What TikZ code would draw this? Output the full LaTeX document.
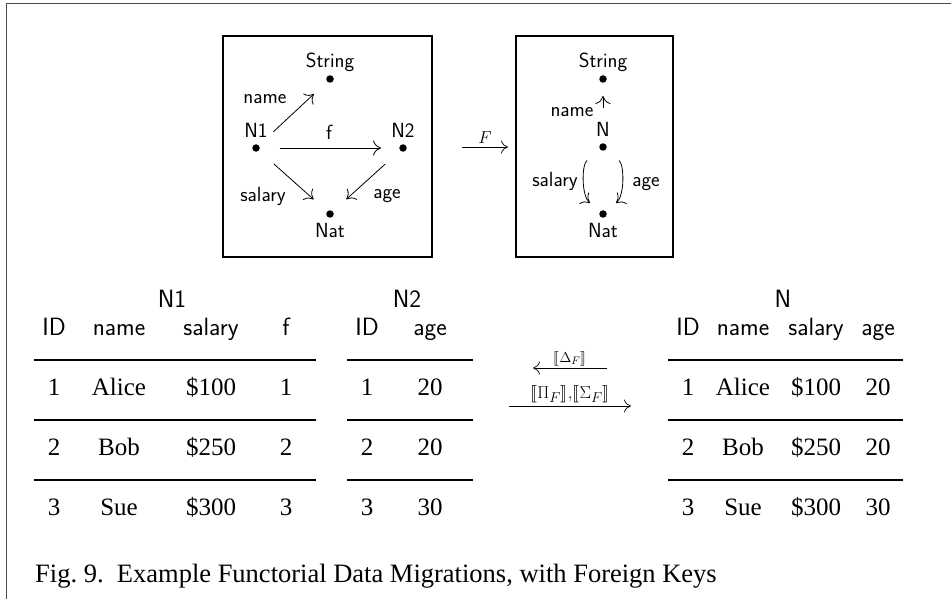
\documentclass[tikz,border=0pt]{standalone}
\usepackage{fontspec}
\setmainfont{Liberation Serif}
\usepackage{stmaryrd}
\usetikzlibrary{arrows.meta}
\begin{document}
\begin{tikzpicture}[x=1pt,y=-1pt,
  dot/.style={circle,fill=black,inner sep=0pt,minimum size=7.5pt},
  lbl/.style={font=\sffamily\fontsize{20.5}{20.5}\selectfont,anchor=base,inner sep=0pt},
  arr/.style={-{To[length=8pt,width=15pt]},line width=0.8pt,shorten <=20pt,shorten >=18pt},
  hdr/.style={font=\sffamily\fontsize{25}{25}\selectfont,anchor=base,inner sep=0pt},
  cell/.style={font=\fontsize{25}{25}\selectfont,anchor=base,inner sep=0pt},
  rulel/.style={line width=1.1pt},
  boxl/.style={line width=1.2pt},
  marr/.style={-{To[length=7pt,width=13pt]},line width=0.7pt}]
\useasboundingbox (0,0) rectangle (951,599);
% outer frame
\coordinate (fa) at (951,3);
\coordinate (fb) at (6,3);
\coordinate (fc) at (6,599);
\draw[line width=0.9pt,black!70] (fa) -- (fb) -- (fc);
% boxes
\draw[boxl] (223,36) rectangle (432,257);
\draw[boxl] (516,36) rectangle (673,257);
% left diagram
\node[dot] (s1) at (330,79) {};
\node[dot] (n1) at (256,148) {};
\node[dot] (n2) at (403,148) {};
\node[dot] (nat1) at (330,214) {};
\node[lbl] (ls1) at (330,68) {String};
\node[lbl] (ln1) at (256,138) {N1};
\node[lbl] (ln2) at (403,138) {N2};
\node[lbl] (lnat1) at (330,237) {Nat};
\draw[arr] (n1) -- (s1);
\draw[arr] (n1) -- (n2);
\draw[arr] (n1) -- (nat1);
\draw[arr] (n2) -- (nat1);
\node[lbl] (lname1) at (265,104) {name};
\node[lbl] (lf) at (329,140) {f};
\node[lbl] (lsal1) at (263,201) {salary};
\node[lbl] (lage1) at (387,198) {age};
% functor arrow
\coordinate (fs) at (462,147);
\coordinate (fe) at (508,147);
\draw[marr] (fs) -- node[above=3pt,inner sep=0pt,font=\fontsize{18}{18}\selectfont] (lF) {$F$} (fe);
% right diagram
\node[dot] (s2) at (603,79) {};
\node[dot] (n) at (603,147) {};
\node[dot] (nat2) at (603,214) {};
\node[lbl] (ls2) at (603,68) {String};
\node[lbl] (ln) at (603,137) {N};
\node[lbl] (lnat2) at (603,237) {Nat};
\draw[arr,shorten <=35pt,shorten >=13pt] (n) -- (s2);
\draw[arr,shorten <=17pt,shorten >=13pt] (n) to[bend right=50] (nat2);
\draw[arr,shorten <=17pt,shorten >=13pt] (n) to[bend left=50] (nat2);
\node[lbl] (lname2) at (572,117) {name};
\node[lbl] (lsal2) at (555,186) {salary};
\node[lbl] (lage2) at (646,186) {age};
% table N1
\node[hdr] (tn1) at (172,307) {N1};
\node[hdr] (h1) at (54,335) {ID};
\node[hdr] (h2) at (119,335) {name};
\node[hdr] (h3) at (211,335) {salary};
\node[hdr] (h4) at (286,335) {f};
\draw[rulel] (34,360) -- (316,360);
\draw[rulel] (34,420) -- (316,420);
\draw[rulel] (34,480) -- (316,480);
\node[cell] (a11) at (54,395) {1};
\node[cell] (a12) at (119,395) {Alice};
\node[cell] (a13) at (211,395) {\$100};
\node[cell] (a14) at (286,395) {1};
\node[cell] (a21) at (54,455) {2};
\node[cell] (a22) at (119,455) {Bob};
\node[cell] (a23) at (211,455) {\$250};
\node[cell] (a24) at (286,455) {2};
\node[cell] (a31) at (54,515) {3};
\node[cell] (a32) at (119,515) {Sue};
\node[cell] (a33) at (211,515) {\$300};
\node[cell] (a34) at (286,515) {3};
% table N2
\node[hdr] (tn2) at (407,307) {N2};
\node[hdr] (g1) at (367,335) {ID};
\node[hdr] (g2) at (430,335) {age};
\draw[rulel] (347,360) -- (473,360);
\draw[rulel] (347,420) -- (473,420);
\draw[rulel] (347,480) -- (473,480);
\node[cell] (b11) at (367,395) {1};
\node[cell] (b12) at (430,395) {20};
\node[cell] (b21) at (367,455) {2};
\node[cell] (b22) at (430,455) {20};
\node[cell] (b31) at (367,515) {3};
\node[cell] (b32) at (430,515) {30};
% migration arrows
\coordinate (d1) at (607,368);
\coordinate (d2) at (533,368);
\draw[marr] (d1) -- node[above=2pt,inner sep=0pt,font=\fontsize{15}{15}\selectfont] (lD) {$\llbracket\Delta_F\rrbracket$} (d2);
\coordinate (p1) at (509,406);
\coordinate (p2) at (631,406);
\draw[marr] (p1) -- node[above=3pt,inner sep=0pt,font=\fontsize{19}{19}\selectfont] (lP) {$\llbracket\Pi_F\rrbracket{,}\llbracket\Sigma_F\rrbracket$} (p2);
% table N
\node[hdr] (tn) at (783,307) {N};
\node[hdr] (c1) at (688,335) {ID};
\node[hdr] (c2) at (743,335) {name};
\node[hdr] (c3) at (816,335) {salary};
\node[hdr] (c4) at (878,335) {age};
\draw[rulel] (668,360) -- (903,360);
\draw[rulel] (668,420) -- (903,420);
\draw[rulel] (668,480) -- (903,480);
\node[cell] (e11) at (688,395) {1};
\node[cell] (e12) at (743,395) {Alice};
\node[cell] (e13) at (816,395) {\$100};
\node[cell] (e14) at (878,395) {20};
\node[cell] (e21) at (688,455) {2};
\node[cell] (e22) at (743,455) {Bob};
\node[cell] (e23) at (816,455) {\$250};
\node[cell] (e24) at (878,455) {20};
\node[cell] (e31) at (688,515) {3};
\node[cell] (e32) at (743,515) {Sue};
\node[cell] (e33) at (816,515) {\$300};
\node[cell] (e34) at (878,515) {30};
% caption
\node[anchor=base west,inner sep=0pt,font=\fontsize{26.5}{26.5}\selectfont] (cap) at (35,582) {Fig.~9.\ \ Example Functorial Data Migrations, with Foreign Keys};
\end{tikzpicture}
\end{document}
